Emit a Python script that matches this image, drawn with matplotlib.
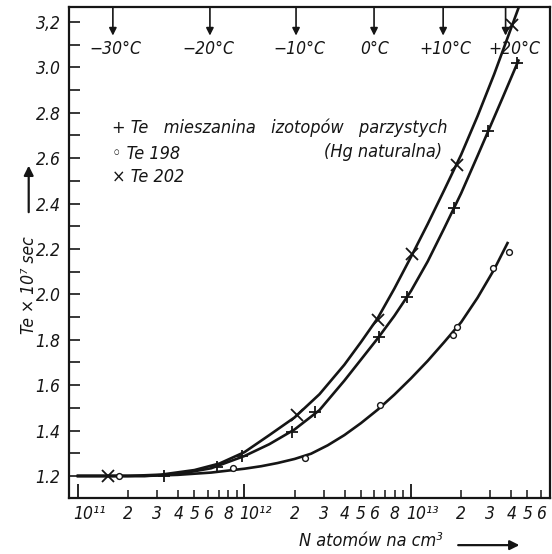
import matplotlib
matplotlib.use('Agg')
import matplotlib.pyplot as plt
import matplotlib.transforms as mtransforms
import numpy as np

plt.rcParams.update({'font.family': 'DejaVu Sans', 'font.style': 'italic',
                     'font.stretch': 'condensed', 'font.size': 12.5})

INK = '#151515'

# ---------------------------------------------------------------------------
# measured points (read from the figure)
# ---------------------------------------------------------------------------
n_mix = [3.3e11, 6.8e11, 9.7e11, 1.93e12, 2.64e12, 6.4e12, 9.5e12, 1.81e13, 2.9e13, 4.33e13]
te_mix = [1.20, 1.24, 1.288, 1.394, 1.482, 1.812, 1.989, 2.38, 2.72, 3.02]

n_198 = [1.76e11, 8.5e11, 2.31e12, 6.5e12, 1.78e13, 1.89e13, 3.1e13, 3.9e13]
te_198 = [1.20, 1.235, 1.279, 1.513, 1.82, 1.855, 2.116, 2.187]

n_202 = [1.51e11, 2.07e12, 6.3e12, 1.01e13, 1.89e13, 4.05e13]
te_202 = [1.20, 1.469, 1.887, 2.178, 2.57, 3.187]

# hand-drawn curves through the points
curve_202_n = [1.0e11, 2.0e11, 3.16e11, 5.0e11, 7.08e11, 1.0e12, 1.41e12, 2.0e12, 2.82e12,
               3.98e12, 5.01e12, 6.31e12, 7.94e12, 1.0e13, 1.26e13, 1.58e13, 2.0e13,
               2.51e13, 3.16e13, 3.98e13, 4.57e13]
curve_202_te = [1.200, 1.200, 1.206, 1.226, 1.255, 1.305, 1.38, 1.458, 1.56,
                1.69, 1.79, 1.895, 2.025, 2.165, 2.31, 2.458, 2.615,
                2.785, 2.97, 3.17, 3.29]

curve_mix_n = [1.0e11, 2.51e11, 3.98e11, 6.31e11, 1.0e12, 1.41e12, 2.0e12, 2.82e12,
               3.98e12, 6.31e12, 7.94e12, 1.0e13, 1.26e13, 1.58e13, 2.0e13, 2.51e13,
               3.55e13, 4.42e13]
curve_mix_te = [1.200, 1.200, 1.208, 1.234, 1.288, 1.34, 1.405, 1.49,
                1.62, 1.806, 1.905, 2.015, 2.145, 2.29, 2.445, 2.61,
                2.866, 3.03]

curve_198_n = [1.0e11, 2.51e11, 3.98e11, 6.31e11, 1.0e12, 1.26e12, 1.58e12, 2.0e12,
               2.51e12, 3.16e12, 3.98e12, 5.01e12, 6.31e12, 7.94e12, 1.0e13, 1.26e13,
               1.58e13, 2.0e13, 2.51e13, 3.16e13, 3.8e13]
curve_198_te = [1.200, 1.200, 1.205, 1.215, 1.232, 1.243, 1.257, 1.275,
                1.298, 1.335, 1.38, 1.433, 1.492, 1.558, 1.630, 1.707,
                1.789, 1.877, 1.985, 2.11, 2.226]

# temperature marks along the top edge
temp_labels = ['\u221230\u00b0C', '\u221220\u00b0C', '\u221210\u00b0C', '0\u00b0C', '+10\u00b0C', '+20\u00b0C']
temp_n = [1.62e11, 6.2e11, 2.04e12, 6.0e12, 1.56e13, 3.7e13]
temp_text_n = [1.67e11, 6.1e11, 2.12e12, 6.08e12, 1.6e13, 4.16e13]

yticks = [1.2, 1.4, 1.6, 1.8, 2.0, 2.2, 2.4, 2.6, 2.8, 3.0, 3.2]
ytick_labels = ['1.2', '1.4', '1.6', '1.8', '2.0', '2.2', '2.4', '2.6', '2.8', '3.0', '3,2']

decades = [1e11, 1e12, 1e13]
decade_labels = ['10\u00b9\u00b9', '10\u00b9\u00b2', '10\u00b9\u00b3']
sub_digits = [2, 3, 4, 5, 6, 7, 8, 9]
sub_labels = ['2', '3', '4', '5', '6', '', '8', '']

# ---------------------------------------------------------------------------
fig = plt.figure(figsize=(5.52, 5.54), dpi=100)
ax = fig.add_axes([0.125, 0.1011, 0.8714, 0.8863])

ax.set_xscale('log')

ax.plot(curve_202_n, curve_202_te, color=INK, lw=1.9)
ax.plot(curve_mix_n, curve_mix_te, color=INK, lw=1.9)
ax.plot(curve_198_n, curve_198_te, color=INK, lw=1.9)

ax.plot(n_mix, te_mix, '+', color=INK, ms=8, mew=1.3)
ax.plot(n_202, te_202, 'x', color=INK, ms=8.5, mew=1.3)
ax.plot(n_198, te_198, 'o', color=INK, ms=4.2, mew=1.0, mfc='white')

# temperature arrows
for n, nt, lab in zip(temp_n, temp_text_n, temp_labels):
    ax.annotate('', xy=(n, 3.14), xytext=(n, 3.266),
                arrowprops=dict(arrowstyle='-|>', color=INK, lw=1.2,
                                mutation_scale=11, shrinkA=0, shrinkB=0))
    ax.text(nt, 3.08, lab, ha='center', va='center', color=INK, fontsize=12.5)

# legend block written inside the plot
ax.text(1.6e11, 2.735, '+ Te   mieszanina   izotopów   parzystych', ha='left', va='center',
        color=INK, fontsize=13)
ax.text(1.6e11, 2.62, '\u25e6 Te 198', ha='left', va='center', color=INK, fontsize=13)
ax.text(1.6e11, 2.515, '\u00d7 Te 202', ha='left', va='center', color=INK, fontsize=13)
ax.text(3.0e12, 2.625, '(Hg naturalna)', ha='left', va='center', color=INK, fontsize=13)

# axes, ticks
for s in ax.spines.values():
    s.set_linewidth(1.6)
    s.set_color(INK)

ax.set_yticks(yticks, labels=ytick_labels)
ax.set_yticks(np.arange(1.3, 3.25, 0.2), minor=True)
ax.set_xticks(decades, labels=decade_labels)
minor_pos = [d * k for d in decades for k in sub_digits]
minor_lab = [l for d in decades for l in sub_labels]
ax.set_xticks(minor_pos, labels=minor_lab, minor=True)

# limits after the ticks, set_xticks would widen them
ax.set_xlim(10 ** 10.946, 10 ** 13.835)
ax.set_ylim(1.103, 3.266)

ax.tick_params(which='both', direction='in', color=INK, labelcolor=INK, labelsize=12.5)
ax.tick_params(axis='x', which='major', length=10, width=1.3, pad=5)
ax.tick_params(axis='x', which='minor', length=6, width=1.1, pad=5)
ax.tick_params(axis='y', which='major', length=8, width=1.2, pad=6)
ax.tick_params(axis='y', which='minor', length=8, width=1.2)
ax.tick_params(top=False, right=False)

# the "10" of each decade label sits on its tick, exponent to the right
shift = mtransforms.ScaledTranslation(-5 / 100, 0, fig.dpi_scale_trans)
for lab in ax.get_xticklabels():
    lab.set_horizontalalignment('left')
    lab.set_transform(lab.get_transform() + shift)

# axis titles with arrows
fig.text(0.671, 0.024, 'N atomów na cm\u00b3', ha='center', va='center', color=INK, fontsize=13)
ax.annotate('', xy=(0.946, 0.016), xytext=(0.825, 0.016), xycoords='figure fraction',
            textcoords='figure fraction', annotation_clip=False,
            arrowprops=dict(arrowstyle='-|>', color=INK, lw=1.6, mutation_scale=14))
fig.text(0.052, 0.486, 'Te \u00d7 10\u2077 sec', rotation=90, ha='center', va='center',
         color=INK, fontsize=12.5)
ax.annotate('', xy=(0.052, 0.706), xytext=(0.052, 0.612), xycoords='figure fraction',
            textcoords='figure fraction', annotation_clip=False,
            arrowprops=dict(arrowstyle='-|>', color=INK, lw=1.6, mutation_scale=14))

fig.savefig('out.png', dpi=100)
